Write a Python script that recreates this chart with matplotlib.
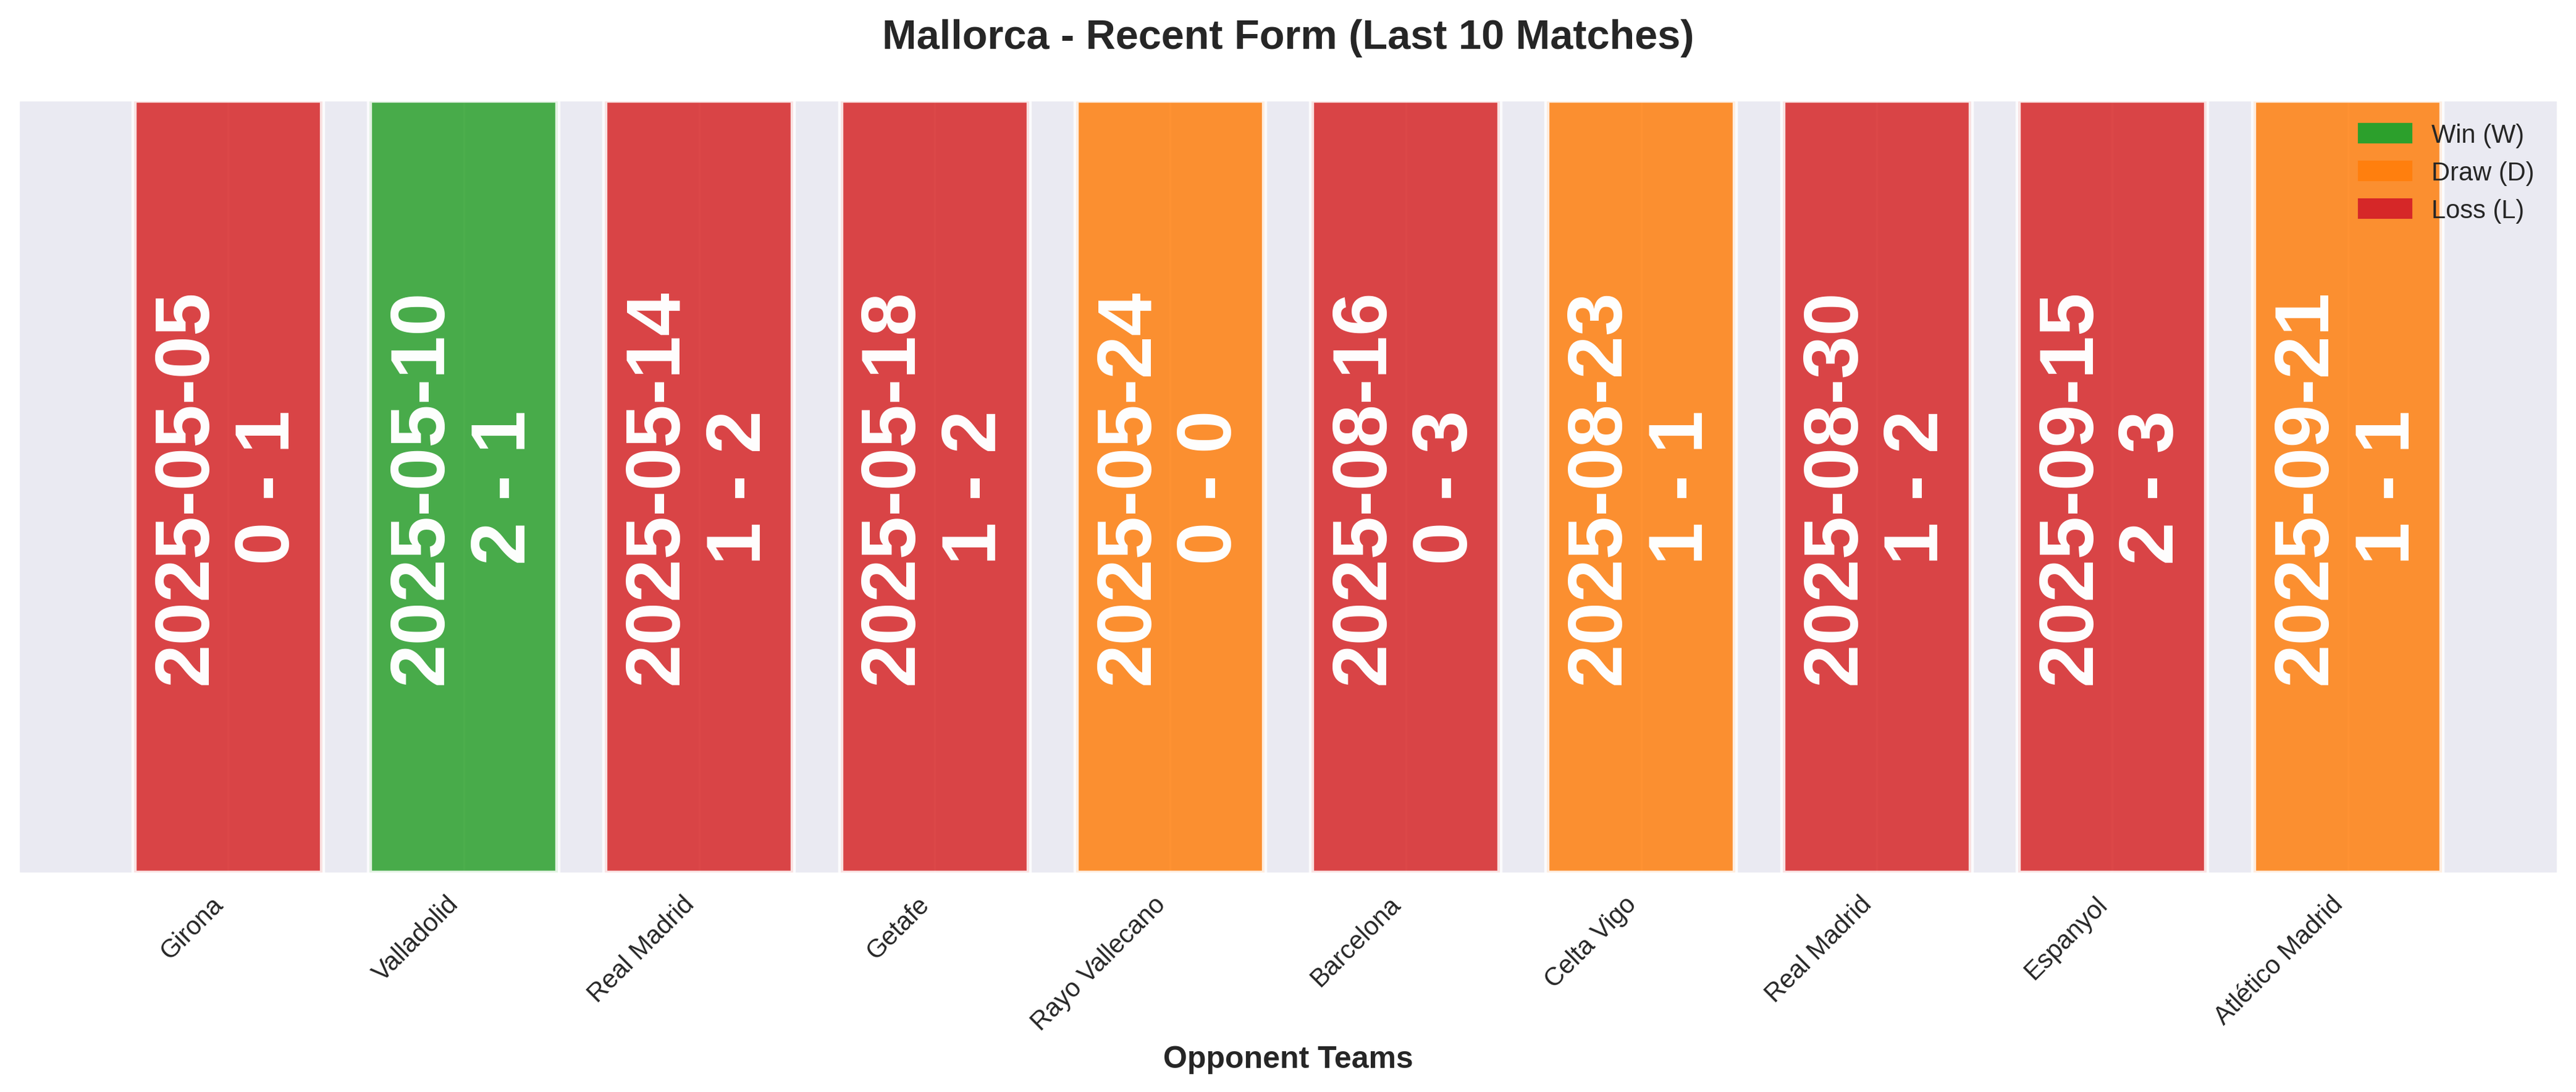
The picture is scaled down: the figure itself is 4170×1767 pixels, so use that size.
import numpy as np
import matplotlib
matplotlib.use("Agg")
import matplotlib.pyplot as plt
import seaborn as sns
from matplotlib.patches import Patch

sns.set_style("darkgrid")
plt.rcParams['font.family'] = ['Liberation Sans', 'DejaVu Sans']

# Datos
opponents = ['Girona', 'Valladolid', 'Real Madrid', 'Getafe', 'Rayo Vallecano',
             'Barcelona', 'Celta Vigo', 'Real Madrid', 'Espanyol', 'Atlético Madrid']
dates = ['2025-05-05', '2025-05-10', '2025-05-14', '2025-05-18', '2025-05-24',
         '2025-08-16', '2025-08-23', '2025-08-30', '2025-09-15', '2025-09-21']
scores = ['0 - 1', '2 - 1', '1 - 2', '1 - 2', '0 - 0',
          '0 - 3', '1 - 1', '1 - 2', '2 - 3', '1 - 1']
results = ['L', 'W', 'L', 'L', 'D', 'L', 'D', 'L', 'L', 'D']

colors = {'W': '#2ca02c', 'D': '#ff7f0e', 'L': '#d62728'}

fig, ax = plt.subplots(figsize=(13.9, 5.8933), dpi=300)
fig.subplots_adjust(left=0.0072, right=0.9928, top=0.908, bottom=0.2)

x = np.arange(len(opponents))
bar_cols = [colors[r] for r in results]
ax.bar(x, np.ones(len(x)), width=0.8, color=bar_cols, alpha=0.85,
       edgecolor='white', linewidth=2)

for i in range(len(x)):
    ax.text(x[i], 0.5, f"{dates[i]}\n{scores[i]}", rotation=90,
            ha='center', va='center', fontsize=30, fontweight='bold',
            color='white')

ax.set_ylim(0, 1)
ax.set_yticks([])
ax.set_xticks(x)
ax.set_xticklabels(opponents, rotation=45, ha='right', fontsize=10)
ax.set_xlabel('Opponent Teams', fontsize=12, fontweight='bold')
ax.set_title('Mallorca - Recent Form (Last 10 Matches)', fontsize=16,
             fontweight='bold', pad=20)

handles = [Patch(color=colors['W'], label='Win (W)'),
           Patch(color=colors['D'], label='Draw (D)'),
           Patch(color=colors['L'], label='Loss (L)')]
ax.legend(handles=handles, loc='upper right', frameon=False, fontsize=10)

fig.savefig('out.png', dpi=300)
